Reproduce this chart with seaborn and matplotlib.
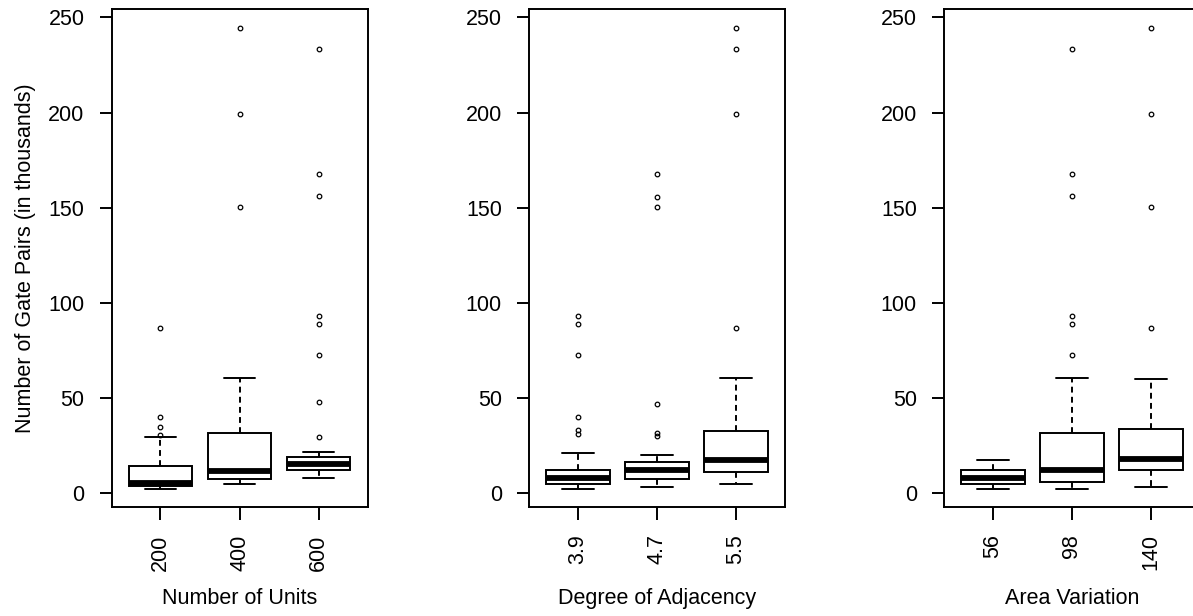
import matplotlib
matplotlib.use('Agg')
import pandas as pd
import matplotlib.pyplot as plt
import seaborn as sns

sns.set_style("ticks")
plt.rcParams['font.family'] = ['Liberation Sans', 'DejaVu Sans']
plt.rcParams.update({
    'text.color': 'black',
    'axes.labelcolor': 'black',
    'axes.edgecolor': 'black',
    'xtick.color': 'black',
    'ytick.color': 'black',
    'axes.linewidth': 1.4,
})

# Box summaries (gate pairs, in thousands)
units_labels = ['200', '400', '600']
units_low = [1.9, 4.4, 7.5]
units_q1 = [3.4, 7.4, 11.9]
units_med = [5.3, 11.6, 15.1]
units_q3 = [14.1, 31.6, 18.6]
units_high = [29.4, 60.5, 21.6]
units_out = [[30.6, 34.7, 40.0, 86.4],
             [150.2, 199.0, 244.6],
             [29.5, 47.5, 72.4, 88.7, 93.1, 155.9, 167.8, 233.5]]

adj_labels = ['3.9', '4.7', '5.5']
adj_low = [2.1, 3.2, 4.4]
adj_q1 = [4.4, 7.4, 10.9]
adj_med = [7.9, 11.9, 17.2]
adj_q3 = [11.9, 16.1, 32.4]
adj_high = [20.7, 19.6, 60.5]
adj_out = [[30.7, 33.0, 40.0, 72.4, 88.7, 93.1],
           [29.8, 31.6, 46.5, 150.2, 155.7, 167.8],
           [86.4, 199.0, 233.5, 244.6]]

area_labels = ['56', '98', '140']
area_low = [2.1, 2.1, 3.2]
area_q1 = [4.4, 5.6, 11.9]
area_med = [7.9, 11.9, 17.5]
area_q3 = [11.9, 31.2, 33.5]
area_high = [17.2, 60.5, 59.6]
area_out = [[],
            [72.4, 88.7, 93.1, 155.9, 167.8, 233.5],
            [86.4, 150.2, 199.0, 244.6]]


def box_sample(low, q1, med, q3, high, outliers):
    # repeat the read values so that seaborn's quartiles land on them exactly
    m = len(outliers) + 1
    return [low] * m + [q1] * m + [med] * m + [q3, high] + list(outliers)


def build_frame(labels, low, q1, med, q3, high, out):
    rows = []
    for i, lab in enumerate(labels):
        for v in box_sample(low[i], q1[i], med[i], q3[i], high[i], out[i]):
            rows.append({'level': lab, 'value': v})
    return pd.DataFrame(rows)


panels = [
    (units_labels, build_frame(units_labels, units_low, units_q1, units_med,
                               units_q3, units_high, units_out), 'Number of Units'),
    (adj_labels, build_frame(adj_labels, adj_low, adj_q1, adj_med,
                             adj_q3, adj_high, adj_out), 'Degree of Adjacency'),
    (area_labels, build_frame(area_labels, area_low, area_q1, area_med,
                              area_q3, area_high, area_out), 'Area Variation'),
]

W, H = 1193, 616
fig = plt.figure(figsize=(W / 100, H / 100), dpi=100)
lefts = [111.5, 529, 944]
bottom = 1 - 507.3 / H
height = (507.3 - 9.3) / H
width = 256 / W

fs = 15.5
for i, (labels, df, xlabel) in enumerate(panels):
    ax = fig.add_axes([lefts[i] / W, bottom, width, height])
    sns.boxplot(data=df, x='level', y='value', order=labels, ax=ax,
                color='white', linecolor='black', linewidth=1.4, width=0.8,
                saturation=1,
                whiskerprops=dict(linestyle=(0, (3, 2.2))),
                medianprops=dict(linewidth=4.2),
                flierprops=dict(marker='o', markersize=3.3,
                                markerfacecolor='none',
                                markeredgecolor='black',
                                markeredgewidth=0.9))
    ax.set_xlim(-0.62, 2.62)
    ax.set_ylim(-7.7, 254.3)
    ax.set_yticks([0, 50, 100, 150, 200, 250])
    ax.tick_params(axis='both', length=9, width=1.4, pad=10.5, labelsize=fs)
    ax.tick_params(axis='x', labelrotation=90)
    for sp in ax.spines.values():
        sp.set_visible(True)
        sp.set_linewidth(1.4)
    ax.set_xlabel(xlabel, fontsize=fs, va='top')
    ax.xaxis.set_label_coords(0.5, -0.163)
    if i == 0:
        ax.set_ylabel('Number of Gate Pairs (in thousands)', fontsize=fs)
        ax.yaxis.set_label_coords(-0.295, 0.5)
    else:
        ax.set_ylabel('')

fig.savefig('out.png', dpi=100)
